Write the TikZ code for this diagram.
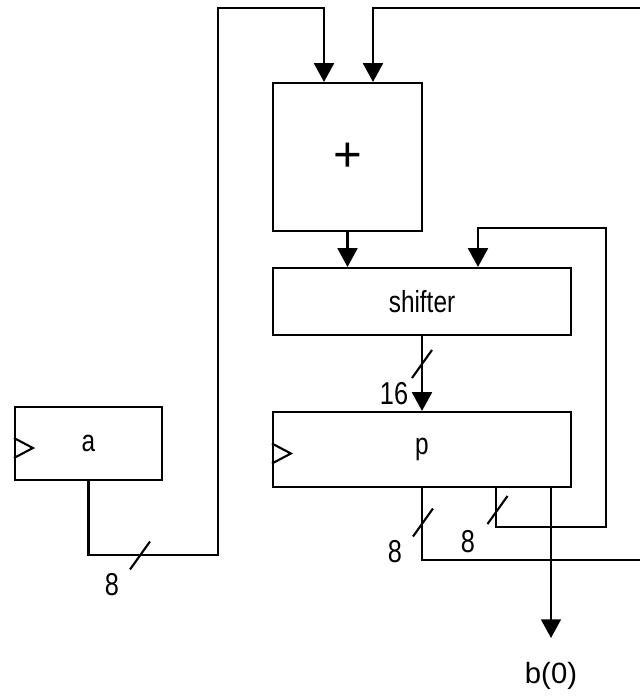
\documentclass[tikz,border=0pt]{standalone}
\usepackage{fontspec}
\setmainfont{Liberation Sans}
\usetikzlibrary{arrows.meta,calc}
\newcommand{\nar}[1]{\scalebox{0.8}[1]{#1}}
\tikzset{
  wire/.style={line width=1.8pt},
  sig/.style={wire,-{Triangle[length=16pt,width=17pt]}},
  blk/.style={draw,line width=1.8pt,inner sep=0pt},
  txt/.style={font=\fontsize{26}{28}\selectfont},
  num/.style={font=\fontsize{27}{29}\selectfont,inner sep=0pt},
  busmark/.pic={\draw[wire] (-10,14) -- (10,-14);},
  clk/.pic={\draw[wire] (0,-10) -- (19,0) -- (0,10);}
}

\begin{document}
\begin{tikzpicture}[x=0.03cm,y=-0.03cm,line width=1.8pt]
  \useasboundingbox (0,0) rectangle (639,699);

  % blocks
  \node[blk,minimum width=4.47cm,minimum height=4.44cm] (adder) at (347.5,157)
    {\fontsize{42}{44}\selectfont +};
  \node[blk,txt,minimum width=8.94cm,minimum height=2.01cm] (shifter) at (422,301.5)
    {\nar{shifter}};
  \node[blk,txt,minimum width=8.94cm,minimum height=2.25cm] (p) at (422,449.5)
    {\nar{p}};
  \node[blk,txt,minimum width=4.41cm,minimum height=2.19cm] (a) at (88.5,443.5)
    {\nar{a}};
  \pic at ($(a.west)+(0,4.5)$) {clk};
  \pic at ($(p.west)+(0,4)$) {clk};

  % corners
  \coordinate (lc1) at (218,555);
  \coordinate (lc2) at (218,8);
  \coordinate (addInA) at (324,8);
  \coordinate (rc1) at (373,8);
  \coordinate (rc2) at (642,8);
  \coordinate (rc3) at (642,560);
  \coordinate (fb1) at (606,527);
  \coordinate (fb2) at (606,228);
  \coordinate (fb3) at (478,228);
  \coordinate (bOut) at (551,638);

  % wires
  \draw[sig] (a.south) |- (lc1) -- (lc2) -- (addInA) -- (addInA |- adder.north);
  \draw[sig] (p.south) |- (rc3) -- (rc2) -- (rc1) -- (rc1 |- adder.north);
  \draw[sig] (adder.south) -- (adder.south |- shifter.north);
  \draw[sig] (shifter.south) -- (p.north);
  \draw[sig] ($(p.south)+(74,0)$) |- (fb1) -- (fb2) -- (fb3) -- (fb3 |- shifter.north);
  \draw[sig] ($(p.south)+(129,0)$) -- (bOut);

  % bus widths
  \pic at (140,555.5) {busmark};
  \pic at (422,364) {busmark};
  \pic at (423,522.5) {busmark};
  \pic at (497.5,510) {busmark};
  \node[num] (wA) at (112,585) {\nar{8}};
  \node[num] (wS) at (394,394) {\nar{16}};
  \node[num] (wP1) at (395,552) {\nar{8}};
  \node[num] (wP2) at (468,542) {\nar{8}};
  \node[font=\fontsize{25}{27}\selectfont] (bLbl) at (551,676) {b(0)};
\end{tikzpicture}
\end{document}
